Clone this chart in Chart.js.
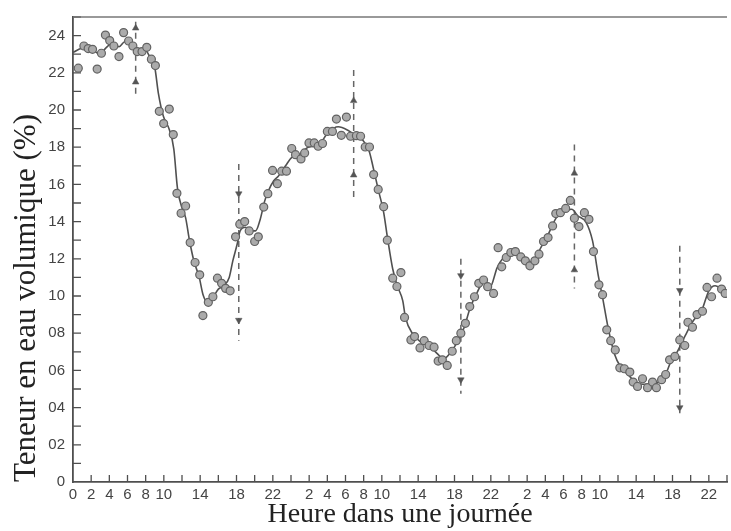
<!DOCTYPE html>
<html><head><meta charset="utf-8">
<script src="https://cdn.jsdelivr.net/npm/chart.js@4/dist/chart.umd.min.js"></script>
<style>html,body{margin:0;padding:0;background:#fff}canvas{display:block}</style>
</head><body>
<canvas id="c" width="731" height="531"></canvas>
<script>
// Measured points: hour since start (3 days) and volumetric water content (%)
const hours = [0.58,1.2,1.67,2.15,2.66,3.13,3.57,4.04,4.5,5.06,5.57,6.12,6.59,7.07,7.6,8.12,8.63,9.07,9.5,9.98,10.6,11.04,11.44,11.9,12.4,12.9,13.44,13.95,14.3,14.9,15.4,15.9,16.36,16.8,17.3,17.9,18.36,18.9,19.4,20.0,20.4,21.0,21.45,21.97,22.5,22.98,23.5,24.08,24.5,25.1,25.5,25.98,26.56,26.99,27.47,28.0,28.56,29.0,29.54,30.1,30.56,31.2,31.66,32.17,32.64,33.1,33.6,34.2,34.6,35.2,35.66,36.1,36.5,37.2,37.6,38.2,38.66,39.2,39.75,40.2,40.66,41.2,41.75,42.2,42.7,43.2,43.68,44.2,44.67,45.2,45.65,46.3,46.8,47.2,47.7,48.2,48.7,49.3,49.8,50.3,50.85,51.3,51.8,52.3,52.8,53.15,53.66,54.24,54.75,55.2,55.7,56.3,56.8,57.3,57.9,58.3,58.76,59.2,59.7,60.2,60.7,61.3,61.67,62.15,62.7,63.25,63.8,64.23,64.8,65.25,65.68,66.26,66.8,67.35,67.7,68.2,68.7,69.3,69.8,70.3,70.9,71.4,71.8];
const moisture = [22.25,23.44,23.3,23.26,22.2,23.05,24.03,23.73,23.44,22.87,24.16,23.71,23.44,23.14,23.14,23.37,22.73,22.39,19.93,19.27,20.05,18.68,15.52,14.45,14.84,12.87,11.8,11.14,8.95,9.66,9.96,10.96,10.68,10.41,10.28,13.18,13.86,14.0,13.5,12.93,13.18,14.78,15.5,16.75,16.04,16.71,16.71,17.93,17.6,17.37,17.69,18.23,18.23,18.05,18.2,18.85,18.85,19.51,18.64,19.62,18.59,18.62,18.59,18.01,18.01,16.53,15.73,14.8,13.0,10.96,10.51,11.26,8.85,7.64,7.82,7.21,7.6,7.34,7.25,6.5,6.57,6.27,7.03,7.6,8.0,8.53,9.43,9.96,10.68,10.86,10.5,10.14,12.6,11.57,12.07,12.34,12.39,12.1,11.89,11.62,11.89,12.25,12.93,13.14,13.77,14.43,14.48,14.71,15.14,14.18,13.73,14.48,14.12,12.39,10.6,10.07,8.18,7.6,7.1,6.14,6.09,5.91,5.37,5.14,5.55,5.07,5.37,5.07,5.5,5.78,6.57,6.75,7.64,7.34,8.59,8.32,9.0,9.18,10.46,9.96,10.96,10.37,10.14];

// Smoothed curve
const curveHours = [0,1.2,2.2,3.0,3.6,4.4,5.06,5.7,6.2,6.8,7.3,8.0,8.4,9.0,9.4,9.95,10.6,11.1,11.5,12.05,12.4,12.8,13.3,13.9,14.3,14.8,15.3,16.0,16.6,17.2,17.6,18.07,18.4,19.0,19.5,20.1,20.6,21.1,21.5,22.1,22.6,23.4,24.1,24.8,25.9,27.0,28.1,29.2,30.3,31.2,31.9,32.6,33.1,33.6,34.2,34.6,35.2,35.7,36.3,36.6,37.4,38.3,39.2,40.1,40.8,41.6,42.3,43.0,43.75,44.5,45.2,45.9,46.7,47.4,48.3,49.2,50.1,51.0,51.4,52.3,53.2,54.1,54.9,55.6,56.5,57.2,57.8,58.3,58.9,59.6,60.3,61.2,62.0,63.1,64.2,65.1,65.8,66.5,67.4,68.3,69.2,70.0,70.7,71.4,72];
const curveValues = [23.1,23.35,23.2,23.0,23.33,23.6,23.4,23.67,23.6,23.3,23.2,23.2,22.9,22.3,20.9,19.66,18.95,17.9,15.8,14.66,14.2,13.05,11.9,11.0,10.1,9.66,9.84,10.37,10.55,11.0,11.9,12.78,13.5,13.7,13.5,13.5,14.1,15.1,15.64,16.2,16.44,17.0,17.45,17.55,18.0,18.1,18.8,19.1,18.9,18.6,18.37,17.8,16.8,15.73,14.5,13.2,11.45,10.55,9.75,8.85,7.96,7.52,7.34,6.9,6.62,6.98,7.52,8.23,9.39,10.2,10.73,10.46,11.53,12.07,12.39,12.16,11.8,12.07,12.5,13.3,14.2,14.57,14.66,14.3,13.95,12.96,11.18,9.93,8.32,6.9,6.18,5.73,5.32,5.25,5.32,5.64,6.44,6.98,7.87,8.68,9.2,10.28,10.55,10.37,10.2];

// Dashed arrows (sunrise up, sunset down)
const arrowHours  = [6.9, 18.25, 30.9, 42.7, 55.2, 66.8];
const arrowTop    = [24.75, 17.1, 22.15, 12.0, 18.15, 12.7];
const arrowBottom = [20.6, 7.6, 15.3, 4.75, 10.4, 3.7];
const arrowHeadA  = [24.4, 15.5, 20.5, 11.1, 16.6, 10.3];
const arrowHeadB  = [21.5, 8.7, 16.5, 5.5, 11.4, 4.0];
const arrowUp     = [true, false, true, false, true, false];

// Tick labels
const xTickLabels = ['0','2','4','6','8','10','','14','','18','','22',
                     '','2','4','6','8','10','','14','','18','','22',
                     '','2','4','6','8','10','','14','','18','','22',''];
const yTickLabels = ['0','','02','','04','','06','','08','','10','','12','','14','','16','','18','','20','','22','','24',''];

const INK = '#4f4f4f';

const datasets = [];
datasets.push({
  label: 'mesures',
  data: hours.map((h, i) => ({x: h, y: moisture[i]})),
  pointRadius: 4,
  pointBackgroundColor: '#ababab',
  pointBorderColor: '#626262',
  pointBorderWidth: 1.2,
  showLine: false
});
datasets.push({
  label: 'heads',
  data: arrowHours.flatMap((h, i) => [{x: h, y: arrowHeadA[i]}, {x: h, y: arrowHeadB[i]}]),
  pointStyle: 'triangle',
  pointRadius: 3.8,
  pointRotation: arrowHours.flatMap((h, i) => arrowUp[i] ? [0, 0] : [180, 180]),
  pointBackgroundColor: '#555',
  pointBorderColor: '#555',
  pointBorderWidth: 0.5,
  showLine: false
});
datasets.push({
  label: 'courbe',
  data: curveHours.map((h, i) => ({x: h, y: curveValues[i]})),
  showLine: true,
  pointRadius: 0,
  borderColor: '#505050',
  borderWidth: 1.6,
  cubicInterpolationMode: 'monotone'
});
arrowHours.forEach((h, i) => {
  datasets.push({
    label: 'fleche' + i,
    data: [{x: h, y: arrowTop[i]}, {x: h, y: arrowBottom[i]}],
    showLine: true,
    pointRadius: 0,
    borderColor: '#666',
    borderWidth: 1.5,
    borderDash: [6, 5]
  });
});

const frame = {
  id: 'frame',
  beforeDatasetsDraw(chart) {
    const {ctx, chartArea: a, scales: {x, y}} = chart;
    ctx.save();
    ctx.strokeStyle = INK;
    ctx.lineWidth = 1.3;
    ctx.beginPath();
    x.ticks.forEach(t => {
      if (t.value <= 0) return;
      const px = x.getPixelForValue(t.value);
      ctx.moveTo(px, a.bottom); ctx.lineTo(px, a.bottom - 7);
    });
    y.ticks.forEach(t => {
      if (t.value <= 0) return;
      const py = y.getPixelForValue(t.value);
      ctx.moveTo(a.left, py); ctx.lineTo(a.left + 8, py);
    });
    ctx.stroke();
    ctx.strokeStyle = '#777';
    ctx.lineWidth = 1.5;
    ctx.beginPath();
    ctx.moveTo(a.left, a.top); ctx.lineTo(a.right, a.top);
    ctx.stroke();
    ctx.restore();
  }
};

new Chart(document.getElementById('c'), {
  type: 'scatter',
  data: {datasets},
  options: {
    responsive: false,
    animation: false,
    devicePixelRatio: 1,
    layout: {padding: {top: 15, right: 0, left: 0, bottom: 0}, autoPadding: false},
    plugins: {legend: {display: false}, tooltip: {enabled: false}},
    scales: {
      x: {
        type: 'linear', min: 0, max: 72,
        afterFit(s) { s.height = 49; },
        grid: {display: true, drawOnChartArea: false, drawTicks: false},
        border: {display: true, color: INK, width: 1.8},
        ticks: {
          stepSize: 2, autoSkip: false, maxRotation: 0, padding: 4,
          color: '#444', font: {family: 'Liberation Sans, Arial, sans-serif', size: 15},
          callback: v => xTickLabels[Math.round(v / 2)] ?? ''
        },
        title: {
          display: true, text: 'Heure dans une journée', color: '#222',
          font: {family: 'Liberation Serif, Times New Roman, serif', size: 28},
          padding: {top: 0, bottom: 0}
        }
      },
      y: {
        type: 'linear', min: 0, max: 25,
        afterFit(s) { s.width = 73; },
        grid: {display: true, drawOnChartArea: false, drawTicks: false},
        border: {display: true, color: INK, width: 1.8},
        ticks: {
          stepSize: 1, autoSkip: false, padding: 8,
          color: '#444', font: {family: 'Liberation Sans, Arial, sans-serif', size: 15},
          callback: v => yTickLabels[Math.round(v)] ?? ''
        },
        title: {
          display: true, text: 'Teneur en eau volumique (%)', color: '#222', align: 'start',
          font: {family: 'Liberation Serif, Times New Roman, serif', size: 31},
          padding: {top: 8, bottom: 0}
        }
      }
    }
  },
  plugins: [frame]
});
</script>
</body></html>
